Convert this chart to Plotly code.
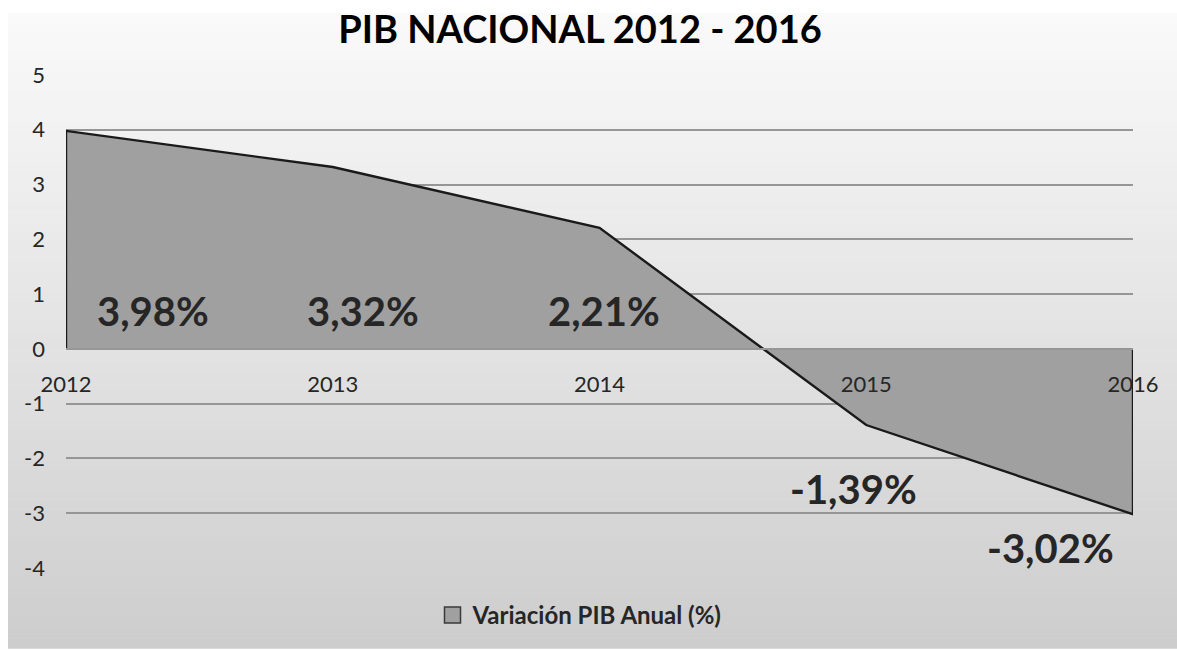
import plotly.graph_objects as go

# ---- data ----
years = [2012, 2013, 2014, 2015, 2016]
pib_var = [3.98, 3.32, 2.21, -1.39, -3.02]
label_texts = ["3,98%", "3,32%", "2,21%", "-1,39%", "-3,02%"]
y_ticks = [5, 4, 3, 2, 1, 0, -1, -2, -3, -4]
y_tick_labels = ["5", "4", "3", "2", "1", "0", "-1", "-2", "-3", "-4"]
x_tick_labels = ["2012", "2013", "2014", "2015", "2016"]
series_name = "Variación PIB Anual (%)"
title_text = "PIB NACIONAL 2012 - 2016"

# ---- layout constants ----
W, H = 1177, 650
ML, MR, MT, MB = 66, 44, 75, 77
FONT = "Lato"
TXT = "#262626"
FILL = "#a0a0a0"

fig = go.Figure()

# area polygon (closed down to zero at both ends for the outline)
poly_x = [years[0]] + years + [years[-1]]
poly_y = [0] + pib_var + [0]
fig.add_trace(go.Scatter(
    x=poly_x, y=poly_y, mode="lines", fill="tozeroy",
    fillcolor=FILL, line=dict(color="#1a1a1a", width=2.4),
    showlegend=False, hoverinfo="skip", cliponaxis=False))

# legend proxy
fig.add_trace(go.Scatter(
    x=[None], y=[None], mode="markers", name=series_name,
    marker=dict(symbol="square", size=16, color=FILL,
                line=dict(color="#3a3a3a", width=1.5))))

# gradient background via stripes (pixel -> paper)
pw = W - ML - MR
ph = H - MT - MB
def px2x(px):
    return (px - ML) / pw
def py2y(py):
    return (H - MB - py) / ph

shapes = []
top_px, bot_px, left_px = 12, H + 4, 8
n = 64
c0, c1 = 250, 205
for i in range(n):
    y0p = top_px + (bot_px - top_px) * i / n
    y1p = top_px + (bot_px - top_px) * (i + 1) / n
    c = round(c0 + (c1 - c0) * (i + 0.5) / n)
    col = f"rgb({c},{c},{c})"
    shapes.append(dict(type="rect", xref="paper", yref="paper", layer="below",
                       x0=px2x(left_px), x1=px2x(W + 6), y0=py2y(y1p + 0.6), y1=py2y(y0p),
                       fillcolor=col, line=dict(width=0)))

# data labels (positions are styling offsets)
label_dx = [87, 30, 4, -13, -83]
label_y = [0.70, 0.70, 0.70, -2.55, -3.63]
annotations = []
for yr, txt, dx, ly in zip(years, label_texts, label_dx, label_y):
    annotations.append(dict(x=yr, y=ly, xref="x", yref="y", text=f"<b>{txt}</b>",
                            showarrow=False, xshift=dx,
                            font=dict(family=FONT, size=40, color=TXT)))

fig.update_layout(
    width=W, height=H,
    margin=dict(l=ML, r=MR, t=MT, b=MB),
    paper_bgcolor="white", plot_bgcolor="rgba(0,0,0,0)",
    shapes=shapes, annotations=annotations,
    title=dict(text=f"<b>{title_text}</b>", x=580 / W, xanchor="center",
               y=1 - 30 / H, yanchor="middle", xref="container", yref="container",
               font=dict(family=FONT, size=38, color="black")),
    showlegend=True,
    legend=dict(orientation="h", x=px2x(580), xanchor="center", y=py2y(621), yanchor="middle",
                font=dict(family=FONT, size=24, color=TXT, weight="bold"),
                bgcolor="rgba(0,0,0,0)"),
    xaxis=dict(range=[years[0], years[-1]], tickvals=years, ticktext=x_tick_labels,
               showgrid=False,
               anchor="free", position=(0 - y_ticks[-1]) / (y_ticks[0] - y_ticks[-1]),
               showline=True, linecolor="#969696", linewidth=1.5,
               ticks="", ticklabelstandoff=16,
               tickfont=dict(family=FONT, size=22, color=TXT),
               zeroline=False, fixedrange=True),
    yaxis=dict(range=[y_ticks[-1], y_ticks[0]], tickvals=y_ticks, ticktext=y_tick_labels,
               showgrid=True, gridcolor="#969696", gridwidth=1.5,
               zeroline=False, showline=False, ticks="",
               ticklabelstandoff=20,
               tickfont=dict(family=FONT, size=22, color=TXT), fixedrange=True),
    font=dict(family=FONT, color=TXT),
)

fig.write_html("out.html", config={"displayModeBar": False},
               post_script="document.body.style.margin='0';document.body.style.overflow='hidden';")
